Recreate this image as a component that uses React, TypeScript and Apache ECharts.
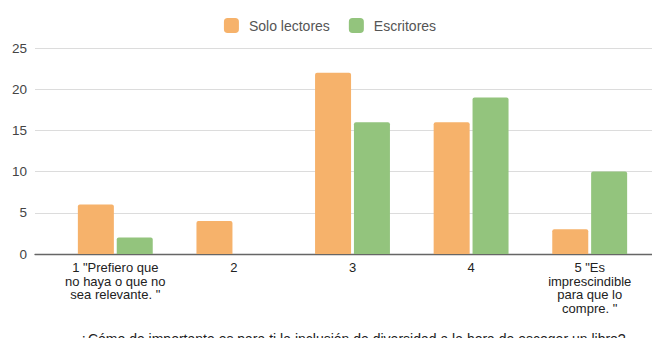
import React, { useEffect, useRef } from "react";
import * as echarts from "echarts";

const categories = [
  '1 "Prefiero que\nno haya o que no\nsea relevante. "',
  "2",
  "3",
  "4",
  '5 "Es\nimprescindible\npara que lo\ncompre. "',
];
const soloLectores = [6, 4, 22, 16, 3];
const escritores = [2, 0, 16, 19, 10];
const yTicks = [0, 5, 10, 15, 20, 25];
const xTitle =
  "¿Cómo de importante es para ti la inclusión de diversidad a la hora de escoger un libro?";

export default function App() {
  const ref = useRef<HTMLDivElement>(null);
  useEffect(() => {
    if (!ref.current) return;
    const chart = echarts.init(ref.current, null, { renderer: "svg" });
    const font = "Liberation Sans, Arial, sans-serif";
    chart.setOption({
      animation: false,
      textStyle: { fontFamily: font },
      legend: {
        top: 13,
        left: "center",
        itemWidth: 15,
        itemHeight: 15,
        itemGap: 19,
        icon: "roundRect",
        textStyle: { fontSize: 14, color: "#555", fontFamily: font, padding: [0, 0, 0, 5] },
        data: ["Solo lectores", "Escritores"],
      },
      grid: [
        { left: 35, right: 5, top: 48, bottom: 92, outerBoundsMode: "none", containLabel: false },
        { left: 56, right: 11, top: 48, bottom: 92, outerBoundsMode: "none", containLabel: false },
      ],
      xAxis: [
        {
          gridIndex: 0,
          type: "category",
          data: [""],
          axisLine: { show: true, lineStyle: { color: "#666", width: 1.3 } },
          axisTick: { show: false },
          axisLabel: { show: false },
        },
        {
          gridIndex: 1,
          type: "category",
          data: categories,
          axisLine: { show: false },
          axisTick: { show: false },
          axisLabel: {
            color: "#222",
            fontSize: 13,
            lineHeight: 13.5,
            margin: 7,
            interval: 0,
            fontFamily: font,
          },
          name: xTitle,
          nameLocation: "middle",
          nameGap: 77,
          nameTextStyle: { color: "#222", fontSize: 14, lineHeight: 15, fontFamily: font },
        },
      ],
      yAxis: [
        {
          gridIndex: 0,
          type: "value",
          min: yTicks[0],
          max: yTicks[yTicks.length - 1],
          interval: 5,
          axisLine: { show: false },
          axisTick: { show: false },
          axisLabel: { color: "#444", fontSize: 13.5, margin: 8, fontFamily: font },
          splitLine: { lineStyle: { color: "#dcdcdc", width: 1 } },
        },
        {
          gridIndex: 1,
          type: "value",
          min: yTicks[0],
          max: yTicks[yTicks.length - 1],
          interval: 5,
          show: false,
          splitLine: { show: false },
        },
      ],
      series: [
        {
          name: "Solo lectores",
          type: "bar",
          xAxisIndex: 1,
          yAxisIndex: 1,
          data: soloLectores,
          barWidth: 36,
          barGap: "8%",
          itemStyle: { color: "#F6B26B", borderRadius: [2, 2, 0, 0] },
        },
        {
          name: "Escritores",
          type: "bar",
          xAxisIndex: 1,
          yAxisIndex: 1,
          data: escritores,
          barWidth: 36,
          barGap: "8%",
          itemStyle: { color: "#93C47D", borderRadius: [2, 2, 0, 0] },
        },
      ],
    });
    return () => chart.dispose();
  }, []);
  return <div ref={ref} style={{ width: 660, height: 346, margin: -8 }} />;
}
